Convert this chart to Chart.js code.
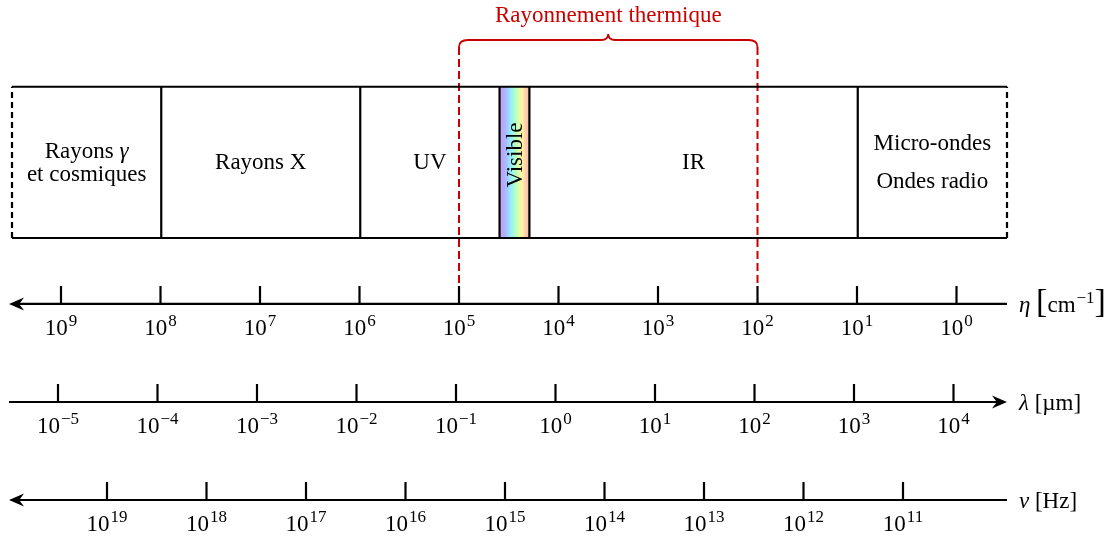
<!DOCTYPE html>
<html>
<head>
<meta charset="utf-8">
<script src="https://cdn.jsdelivr.net/npm/chart.js@4.4.1/dist/chart.umd.min.js"></script>
<style>
  html, body { margin: 0; padding: 0; background: #fff; }
  #wrap { width: 1112px; height: 540px; }
</style>
</head>
<body>
<div id="wrap"><canvas id="spectre"></canvas></div>
<script>
// Domaines du spectre (bornes exprimées en décades le long du schéma)
const bandNames = ["Rayons γ|et cosmiques", "Rayons X", "UV", "Visible", "IR", "Micro-ondes|Ondes radio"];
const bandEdges = [0, 1.5, 3.5, 4.9, 5.2, 8.5, 10];

// Exposants des graduations de chaque axe
const etaExp = [9, 8, 7, 6, 5, 4, 3, 2, 1, 0];
const lamExp = [-5, -4, -3, -2, -1, 0, 1, 2, 3, 4];
const nuExp = [19, 18, 17, 16, 15, 14, 13, 12, 11];

// Rayonnement thermique : entre 10^5 et 10^2 cm^-1
const thermalEta = [1e5, 1e2];
const thermalLabel = "Rayonnement thermique";

// Titres des axes
const etaTitle = [{ t: "η", it: true }, { t: " " }, { t: "[", big: true }, { t: "cm" }, { t: "−1", sup: true }, { t: "]", big: true }];
const lamTitle = [{ t: "λ", it: true }, { t: " [µm]" }];
const nuTitle = [{ t: "ν", it: true }, { t: " [Hz]" }];

// mise en page (unités du schéma)
const L = {
  boxTop: 1.52, etaY: -0.663, lamY: -1.648, nuY: -2.633,
  tick: 0.18, tickLabel: 0.31, titleDy: 0.085, titleX: 10.12,
  axisFrom: -0.03, axisTo: 10,
  labelY: 0.69, lineStep: [0.231, 0, 0, 0, 0, 0.382], visibleY: 0.834,
  braceEnd: 1.92, braceMid: 1.99, braceCusp: 2.05, thermalY: 2.171
};
const PX = 99.5; // pixels par décade
const rainbow = ["#e0a0ff", "#b4a8ff", "#a0c8ff", "#98ecff", "#a8ffd0", "#d8ffa8", "#fff4a8", "#ffd0a8", "#ffb4b4"];
const INK = "#000";
const RED = "#c80000";
const FONT = '"Liberation Serif", "DejaVu Serif", serif';

function segments(list) {
  const out = [];
  list.forEach(([a, b]) => out.push({ x: a[0], y: a[1] }, { x: b[0], y: b[1] }, { x: b[0], y: null }));
  return out;
}
const tickSegs = (exps, y) => segments(exps.map(e => [[10 ** e, y], [10 ** e, y + L.tick]]));

function runFont(r) {
  const px = r.sup ? 17 : r.big ? 34 : 23;
  return (r.it ? "italic " : "") + px + "px " + FONT;
}
function drawRuns(ctx, rs, x, y, align) {
  let w = 0;
  rs.forEach(r => { ctx.font = runFont(r); r.w = ctx.measureText(r.t).width + (r.sup ? 1 : 0); w += r.w; });
  let cx = align === "center" ? x - w / 2 : x;
  rs.forEach(r => { ctx.font = runFont(r); ctx.fillText(r.t, cx + (r.sup ? 1 : 0), y - (r.sup ? 9 : 0)); cx += r.w; });
}
const greek = s => s.split(/([γηλν])/).filter(p => p).map(p => ({ t: p, it: /[γηλν]/.test(p) }));
const power = e => [{ t: "10" }, { t: e < 0 ? "−" + (-e) : String(e), sup: true }];

const textPlugin = {
  id: "texte",
  afterDatasetsDraw(chart) {
    const { ctx, scales } = chart;
    const X = scales.x, Y = scales.y;
    ctx.save();
    ctx.textAlign = "left";
    ctx.textBaseline = "alphabetic";
    ctx.fillStyle = INK;

    // noms des domaines
    bandNames.forEach((name, i) => {
      const xm = X.getPixelForValue((bandEdges[i] + bandEdges[i + 1]) / 2);
      if (name === "Visible") {
        ctx.save();
        ctx.translate(xm, Y.getPixelForValue(L.visibleY));
        ctx.rotate(-Math.PI / 2);
        ctx.font = "23px " + FONT;
        ctx.textAlign = "center";
        ctx.textBaseline = "middle";
        ctx.fillText(name, 0, 1);
        ctx.restore();
        return;
      }
      const lines = name.split("|");
      lines.forEach((ln, k) => {
        const v = L.labelY + L.lineStep[i] * ((lines.length - 1) / 2 - k);
        drawRuns(ctx, greek(ln), xm, Y.getPixelForValue(v), "center");
      });
    });

    // flèches
    const arrow = (u, v, dir) => {
      const x = X.getPixelForValue(u), y = Y.getPixelForValue(v);
      ctx.beginPath();
      ctx.moveTo(x, y);
      ctx.lineTo(x - dir * 15, y - 6.5);
      ctx.quadraticCurveTo(x - dir * 11, y - 1, x - dir * 10, y);
      ctx.quadraticCurveTo(x - dir * 11, y + 1, x - dir * 15, y + 6.5);
      ctx.closePath();
      ctx.fill();
    };
    arrow(L.axisFrom, L.etaY, -1);
    arrow(L.axisTo, L.lamY, 1);
    arrow(L.axisFrom, L.nuY, -1);

    // graduations
    [["eta", etaExp, L.etaY], ["lam", lamExp, L.lamY], ["nu", nuExp, L.nuY]].forEach(([id, exps, v]) => {
      exps.forEach(e => drawRuns(ctx, power(e), scales[id].getPixelForValue(10 ** e), Y.getPixelForValue(v - L.tickLabel), "center"));
    });
    [[etaTitle, L.etaY], [lamTitle, L.lamY], [nuTitle, L.nuY]].forEach(([t, v]) => {
      drawRuns(ctx, t, X.getPixelForValue(L.titleX), Y.getPixelForValue(v - L.titleDy), "left");
    });

    // accolade rouge
    const E = scales.eta;
    const x1 = E.getPixelForValue(thermalEta[0]), x2 = E.getPixelForValue(thermalEta[1]), xm = (x1 + x2) / 2;
    const yE = Y.getPixelForValue(L.braceEnd), yM = Y.getPixelForValue(L.braceMid), yC = Y.getPixelForValue(L.braceCusp);
    ctx.strokeStyle = RED;
    ctx.lineWidth = 1.8;
    ctx.beginPath();
    ctx.moveTo(x1, yE);
    ctx.quadraticCurveTo(x1, yM, x1 + 9, yM);
    ctx.lineTo(xm - 7, yM);
    ctx.quadraticCurveTo(xm, yM, xm, yC);
    ctx.quadraticCurveTo(xm, yM, xm + 7, yM);
    ctx.lineTo(x2 - 9, yM);
    ctx.quadraticCurveTo(x2, yM, x2, yE);
    ctx.stroke();
    ctx.fillStyle = RED;
    drawRuns(ctx, [{ t: thermalLabel }], xm, Y.getPixelForValue(L.thermalY), "center");
    ctx.restore();
  }
};

const line = (extra) => Object.assign({ showLine: true, borderColor: INK, borderWidth: 2.2, pointRadius: 0, fill: false, order: 1 }, extra);
const last = bandEdges.length - 1;

new Chart(document.getElementById("spectre"), {
  type: "scatter",
  data: {
    datasets: [
      // bande du visible (dégradé arc-en-ciel)
      line({
        data: [{ x: bandEdges[3], y: L.boxTop }, { x: bandEdges[4], y: L.boxTop }],
        fill: "origin", borderWidth: 0, order: 5,
        backgroundColor: (c) => {
          const ch = c.chart, xs = ch.scales.x;
          if (!xs || !ch.chartArea) return "rgba(0,0,0,0)";
          const g = ch.ctx.createLinearGradient(xs.getPixelForValue(bandEdges[3]), 0, xs.getPixelForValue(bandEdges[4]), 0);
          rainbow.forEach((col, i) => g.addColorStop(i / (rainbow.length - 1), col));
          return g;
        }
      }),
      // cadre des domaines
      line({
        data: segments([
          [[bandEdges[0], L.boxTop], [bandEdges[last], L.boxTop]],
          [[bandEdges[0], 0], [bandEdges[last], 0]],
          ...bandEdges.slice(1, last).map(u => [[u, 0], [u, L.boxTop]])
        ])
      }),
      line({
        data: segments([[[bandEdges[0], 0], [bandEdges[0], L.boxTop]], [[bandEdges[last], 0], [bandEdges[last], L.boxTop]]]),
        borderDash: [6, 4]
      }),
      // limites du rayonnement thermique
      line({
        xAxisID: "eta",
        data: segments(thermalEta.map(n => [[n, L.braceEnd], [n, L.etaY + L.tick]])),
        borderColor: RED, borderWidth: 2, borderDash: [8, 4]
      }),
      // axes
      line({
        data: segments([
          [[L.axisTo, L.etaY], [L.axisFrom + 0.05, L.etaY]],
          [[L.axisFrom, L.lamY], [L.axisTo - 0.05, L.lamY]],
          [[L.axisTo, L.nuY], [L.axisFrom + 0.05, L.nuY]]
        ])
      }),
      line({ xAxisID: "eta", data: tickSegs(etaExp, L.etaY) }),
      line({ xAxisID: "lam", data: tickSegs(lamExp, L.lamY) }),
      line({ xAxisID: "nu", data: tickSegs(nuExp, L.nuY) })
    ]
  },
  options: {
    responsive: true,
    maintainAspectRatio: false,
    devicePixelRatio: 1,
    animation: false,
    layout: { padding: 0 },
    events: [],
    scales: {
      x: { type: "linear", display: false, bounds: "data", min: -12 / PX, max: -12 / PX + 1112 / PX },
      y: { type: "linear", display: false, bounds: "data", min: 238 / PX - 540 / PX, max: 238 / PX },
      eta: { type: "logarithmic", axis: "x", display: false, bounds: "data", reverse: true,
        min: 10 ** (9 + 61 / PX - 1112 / PX), max: 10 ** (9 + 61 / PX) },
      lam: { type: "logarithmic", axis: "x", display: false, bounds: "data",
        min: 10 ** (-5 - 58 / PX), max: 10 ** (-5 - 58 / PX + 1112 / PX) },
      nu: { type: "logarithmic", axis: "x", display: false, bounds: "data", reverse: true,
        min: 10 ** (19 + 107 / PX - 1112 / PX), max: 10 ** (19 + 107 / PX) }
    },
    plugins: {
      legend: { display: false },
      tooltip: { enabled: false }
    }
  },
  plugins: [textPlugin]
});
</script>
</body>
</html>
